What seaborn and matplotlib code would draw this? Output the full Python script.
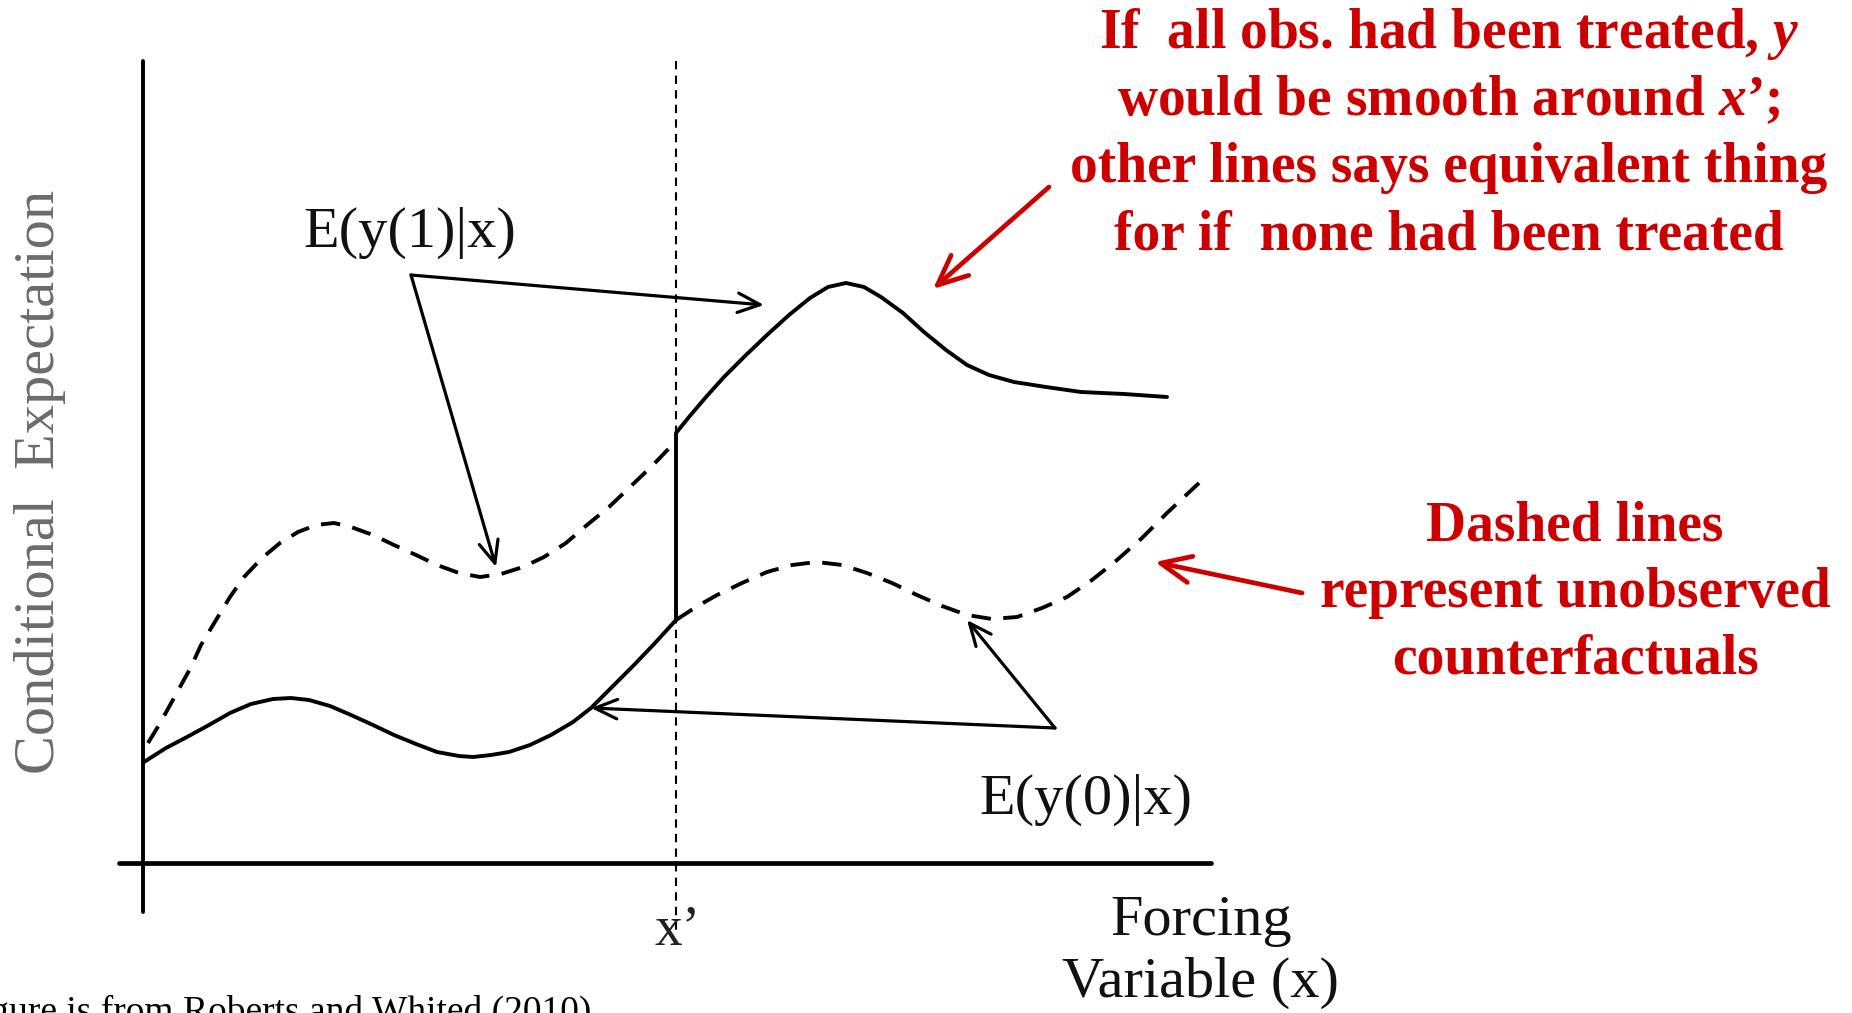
import numpy as np
import pandas as pd
import matplotlib
matplotlib.use("Agg")
import matplotlib.pyplot as plt
import seaborn as sns

sns.set_style("white")
plt.rcParams["font.family"] = ["Liberation Serif", "DejaVu Serif"]
plt.rcParams["mathtext.fontset"] = "custom"
plt.rcParams["mathtext.it"] = "Liberation Serif:italic:bold"
plt.rcParams["mathtext.rm"] = "Liberation Serif:bold"

# curves (x = forcing variable, y = conditional expectation)
# E(y(0)|x), observed part, left of the cutoff
y0_obs_x = [0.01, 0.23, 0.44, 0.66, 0.87, 1.08, 1.30, 1.48, 1.66, 1.87, 2.08, 2.30, 2.51, 2.73,
            2.94, 3.16, 3.30, 3.48, 3.66, 3.87, 4.08, 4.30, 4.48, 4.69, 4.91, 5.12, 5.33]
y0_obs_y = [1.01, 1.15, 1.26, 1.38, 1.50, 1.59, 1.64, 1.65, 1.63, 1.57, 1.48, 1.38, 1.28, 1.19,
            1.11, 1.07, 1.06, 1.08, 1.11, 1.18, 1.28, 1.41, 1.55, 1.76, 1.98, 2.20, 2.43]
# E(y(0)|x), counterfactual right of the cutoff
y0_cf_x = [5.33, 5.53, 5.74, 5.99, 6.24, 6.49, 6.74, 6.99, 7.24, 7.49, 7.74, 7.99, 8.24, 8.49,
           8.74, 8.99, 9.24, 9.49, 9.74, 9.99, 10.24, 10.56]
y0_cf_y = [2.43, 2.56, 2.68, 2.80, 2.91, 2.98, 3.01, 2.98, 2.90, 2.80, 2.68, 2.57, 2.48, 2.44,
           2.46, 2.55, 2.66, 2.83, 3.03, 3.25, 3.50, 3.80]
# E(y(1)|x), counterfactual left of the cutoff
y1_cf_x = [0.05, 0.16, 0.26, 0.37, 0.48, 0.58, 0.73, 0.87, 1.01, 1.19, 1.37, 1.55, 1.73, 1.91,
           2.08, 2.30, 2.51, 2.73, 2.94, 3.16, 3.37, 3.58, 3.80, 4.01, 4.23, 4.44, 4.66, 4.87,
           5.10, 5.33]
y1_cf_y = [1.20, 1.38, 1.56, 1.76, 1.96, 2.18, 2.43, 2.66, 2.86, 3.05, 3.20, 3.31, 3.38, 3.40,
           3.36, 3.28, 3.18, 3.08, 2.98, 2.90, 2.86, 2.89, 2.96, 3.06, 3.20, 3.38, 3.56, 3.76,
           3.98, 4.22]
# E(y(1)|x), observed right of the cutoff (starts with the jump)
y1_obs_x = [5.33, 5.33, 5.46, 5.63, 5.81, 6.03, 6.24, 6.46, 6.67, 6.85, 7.03, 7.21, 7.38, 7.60,
            7.81, 8.03, 8.24, 8.46, 8.71, 9.03, 9.38, 9.81, 10.24]
y1_obs_y = [2.43, 4.30, 4.46, 4.66, 4.86, 5.08, 5.28, 5.48, 5.65, 5.76, 5.80, 5.76, 5.66, 5.50,
            5.31, 5.13, 4.98, 4.88, 4.81, 4.76, 4.71, 4.69, 4.66]

cutoff = 5.33

red = "#CC0000"
note_top = ["If  all obs. had been treated, $y$",
            "would be smooth around $x$’;",
            "other lines says equivalent thing",
            "for if  none had been treated"]
note_bottom = ["Dashed lines", "represent unobserved", "counterfactuals"]

fig = plt.figure(figsize=(18.52, 10.13), dpi=100)
ax = fig.add_axes([0, 0, 1, 1])
ax.set_xlim(-1.43, 17.09)
ax.set_ylim(-1.50, 8.63)
ax.axis("off")

# axes of the diagram
sns.lineplot(x=[0, 0], y=[8.02, -0.49], ax=ax, color="black", lw=2.8, sort=False, estimator=None)
sns.lineplot(x=[-0.24, 10.68], y=[0, 0], ax=ax, color="black", lw=3.4, sort=False, estimator=None)
sns.lineplot(x=[cutoff, cutoff], y=[8.02, -0.70], ax=ax, color="black", lw=1.5,
             linestyle=(0, (4, 3)), sort=False, estimator=None)

solid = dict(ax=ax, color="black", lw=2.8, sort=False, estimator=None)
dashed = dict(ax=ax, color="black", lw=2.8, sort=False, estimator=None, linestyle=(0, (5.0, 3.2)))
sns.lineplot(x=y0_obs_x, y=y0_obs_y, **solid)
sns.lineplot(x=y1_obs_x, y=y1_obs_y, **solid)
sns.lineplot(x=y0_cf_x, y=y0_cf_y, **dashed)
sns.lineplot(x=y1_cf_x, y=y1_cf_y, **dashed)

# black pointer arrows
black_arrow = dict(arrowstyle="->,head_length=0.8,head_width=0.35", color="black", lw=2.3,
                   mutation_scale=20, shrinkA=0, shrinkB=0)
for start, end in [((2.68, 5.88), (6.21, 5.58)), ((2.68, 5.88), (3.53, 2.96)),
                   ((9.12, 1.35), (4.48, 1.55)), ((9.12, 1.35), (8.24, 2.43))]:
    ax.annotate("", xy=end, xytext=start, arrowprops=black_arrow)

red_arrow = dict(arrowstyle="->,head_length=0.9,head_width=0.4", color=red, lw=3.4,
                 mutation_scale=24, shrinkA=0, shrinkB=0)
ax.annotate("", xy=(7.90, 5.74), xytext=(9.06, 6.76), arrowprops=red_arrow)
ax.annotate("", xy=(10.12, 3.01), xytext=(11.59, 2.70), arrowprops=red_arrow)

# labels
ax.text(2.67, 6.16, "E(y(1)|x)", fontsize=42, ha="center", va="baseline", color="#111111")
ax.text(9.43, 0.49, "E(y(0)|x)", fontsize=42, ha="center", va="baseline", color="#111111")
ax.text(5.35, -0.82, "x’", fontsize=40, ha="center", va="baseline", color="#222222")
ax.text(10.58, -0.72, "Forcing", fontsize=42, ha="center", va="baseline", color="#111111")
ax.text(10.58, -1.34, "Variable (x)", fontsize=42, ha="center", va="baseline", color="#111111")
ax.text(-1.03, 3.81, "Conditional  Expectation", fontsize=42, rotation=90,
        ha="center", va="center", color="#6b6b6b")
ax.text(4.48, -1.59, "Figure is from Roberts and Whited (2010)", fontsize=27,
        ha="right", va="baseline", color="black")

for i, line in enumerate(note_top):
    ax.text(13.06, 8.15 - 0.67 * i, line, fontsize=40, fontweight="bold",
            ha="center", va="baseline", color=red)
for i, line in enumerate(note_bottom):
    ax.text(14.32, 3.23 - 0.665 * i, line, fontsize=40, fontweight="bold",
            ha="center", va="baseline", color=red)

fig.savefig("out.png", dpi=100)
